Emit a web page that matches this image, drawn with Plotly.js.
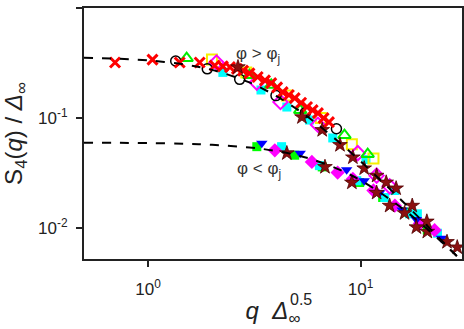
<!DOCTYPE html>
<html>
<head>
<meta charset="utf-8">
<script src="https://cdn.plot.ly/plotly-3.0.1.min.js"></script>
<style>
  body { margin: 0; background: #fff; }
  #plot { width: 464px; height: 329px; }
</style>
</head>
<body>
<div id="plot"></div>
<script>
// dashed guide curves
var fitX = [0.5, 0.7, 1, 1.5, 2, 3, 4, 5, 6, 8, 10, 13, 16, 20, 25, 30];
var fitHigh = [0.353, 0.347, 0.334, 0.306, 0.274, 0.211, 0.159, 0.121, 0.0937, 0.0595, 0.0405, 0.0251, 0.017, 0.0111, 0.00716, 0.005];
var fitLow = [0.0598, 0.0596, 0.0593, 0.0584, 0.0572, 0.0541, 0.0503, 0.0461, 0.0418, 0.0338, 0.0272, 0.0197, 0.0147, 0.0103, 0.0070, 0.00505];

// phi > phi_j branch
var redX = [0.70, 1.05, 1.41, 1.75, 2.06, 2.25, 2.43, 2.62, 2.8, 3.0, 3.28, 3.55, 3.8, 4.05, 4.3, 4.6, 4.9, 5.25, 5.6, 5.95, 6.3, 6.7, 7.1];
var redY = [0.32, 0.34, 0.32, 0.32, 0.30, 0.295, 0.29, 0.28, 0.27, 0.255, 0.236, 0.22, 0.208, 0.19, 0.172, 0.162, 0.152, 0.138, 0.126, 0.118, 0.111, 0.1, 0.092];
var blackX = [1.35, 1.9, 2.7, 4.0, 5.5, 7.7];
var blackY = [0.33, 0.28, 0.225, 0.16, 0.112, 0.08];
var greenOpenX = [1.52, 3.0, 3.8, 5.2, 8.4, 10.8];
var greenOpenY = [0.35, 0.245, 0.2, 0.118, 0.07, 0.047];
var yellowX = [2.0, 2.9, 4.5, 6.5, 9.1, 11.5];
var yellowY = [0.34, 0.26, 0.16, 0.1, 0.058, 0.043];
var magOpenX = [2.1, 3.25, 4.2, 6.3, 9.7, 11.9, 13.7];
var magOpenY = [0.32, 0.21, 0.14, 0.087, 0.048, 0.03, 0.024];

// both branches
var cyanX = [2.25, 3.4, 4.5, 5.75, 7.4, 10.6, 14.5, 18.5, 4.25, 6.4, 9.6, 13.0, 17.0, 23.0];
var cyanY = [0.26, 0.18, 0.126, 0.096, 0.066, 0.042, 0.022, 0.0135, 0.055, 0.037, 0.027, 0.019, 0.0135, 0.009];
var starX = [2.65, 5.3, 6.6, 8.0, 9.2, 10.4, 11.9, 13.2, 14.7, 17.5, 20.5, 4.5, 6.8, 9.1, 11.9, 13.7, 16.1, 18.3, 20.6, 25.5, 28.5];
var starY = [0.29, 0.102, 0.078, 0.057, 0.044, 0.035, 0.030, 0.026, 0.023, 0.016, 0.0115, 0.048, 0.036, 0.026, 0.021, 0.016, 0.0137, 0.0102, 0.0093, 0.0075, 0.0067];

// phi < phi_j branch
var blueX = [3.43, 5.2, 8.6, 10.4, 12.3, 15.7, 18.3, 24];
var blueY = [0.059, 0.048, 0.034, 0.027, 0.021, 0.0146, 0.012, 0.0081];
var greenX = [3.25, 4.9, 6.6, 9.9, 12.7, 16.4, 20.6];
var greenY = [0.055, 0.046, 0.036, 0.026, 0.019, 0.014, 0.0096];
var magX = [3.95, 5.9, 7.8, 9.2, 11.5, 14.5, 19.0, 22.3];
var magY = [0.051, 0.04, 0.032, 0.028, 0.022, 0.016, 0.011, 0.0096];

function pts(x, y, symbol, color, size, lw) {
  return {
    x: x, y: y, mode: 'markers', type: 'scatter',
    marker: { symbol: symbol, color: color, size: size, line: { color: color, width: lw } }
  };
}

var data = [
  pts(greenX, greenY, 'square', '#00ff00', 9, 0),
  pts(cyanX, cyanY, 'square', '#00ffff', 9, 0),
  pts(magX, magY, 'diamond', '#ff00ff', 11, 0),
  pts(blueX, blueY, 'triangle-down', '#0000ff', 10, 0),
  pts(yellowX, yellowY, 'square-open', '#f5f000', 10, 2),
  pts(magOpenX, magOpenY, 'diamond-open', '#ff00ff', 11, 2),
  pts(greenOpenX, greenOpenY, 'triangle-up-open', '#00ee00', 11, 2),
  pts(blackX, blackY, 'circle-open', '#000000', 10, 1.5),
  pts(redX, redY, 'x-thin', '#ff0000', 10, 3),
  {
    x: starX, y: starY, mode: 'markers', type: 'scatter',
    marker: { symbol: 'star', color: '#8b1010', size: 11, line: { color: '#500000', width: 0.8 } }
  },
  {
    x: fitX, y: fitHigh, mode: 'lines', type: 'scatter',
    line: { color: '#000', width: 2, dash: 'dash', shape: 'spline' }
  },
  {
    x: fitX, y: fitLow, mode: 'lines', type: 'scatter',
    line: { color: '#000', width: 2, dash: 'dash', shape: 'spline' }
  }
];

var layout = {
  width: 464,
  height: 329,
  margin: { l: 84, r: 2, t: 8, b: 70 },
  showlegend: false,
  paper_bgcolor: '#fff',
  plot_bgcolor: '#fff',
  font: { family: 'Liberation Sans, Arial, sans-serif', color: '#222' },
  xaxis: {
    type: 'log',
    range: [Math.log10(0.5), Math.log10(30)],
    tickmode: 'array',
    tickvals: [1, 10],
    ticktext: ['10<sup>0</sup>', '10<sup>1</sup>'],
    ticks: 'outside',
    ticklen: 6,
    tickwidth: 2,
    tickcolor: '#222',
    tickfont: { size: 17 },
    ticklabelstandoff: 8,
    showgrid: false,
    zeroline: false,
    showline: true,
    linecolor: '#222',
    linewidth: 2,
    mirror: true,
    title: { text: '<i>q</i>  <i>Δ</i><sub>∞</sub>', font: { size: 24 }, standoff: 4 }
  },
  yaxis: {
    type: 'log',
    range: [-2.28, 0],
    tickmode: 'array',
    tickvals: [0.01, 0.1, 1],
    ticktext: ['10<sup>-2</sup>', '10<sup>-1</sup>', '10<sup>0</sup>'],
    ticks: 'outside',
    ticklen: 6,
    tickwidth: 2,
    tickcolor: '#222',
    tickfont: { size: 17 },
    ticklabelstandoff: 5,
    showgrid: false,
    zeroline: false,
    showline: true,
    linecolor: '#222',
    linewidth: 2,
    mirror: true,
    title: { text: 'S<sub>4</sub>(<i>q</i>) / <i>Δ</i><sub>∞</sub>', font: { size: 24 }, standoff: 12 }
  },
  annotations: [
    { xref: 'paper', yref: 'paper', x: 0.46, y: 0.865, showarrow: false,
      text: 'φ > φ<sub>j</sub>', font: { size: 17, color: '#333' } },
    { xref: 'paper', yref: 'paper', x: 0.463, y: 0.303, showarrow: false,
      text: 'φ < φ<sub>j</sub>', font: { size: 17, color: '#333' } },
    // exponent stacked over the subscript of the x title
    { xref: 'paper', yref: 'paper', x: 0.54, y: -0.162, xanchor: 'left', yanchor: 'middle',
      showarrow: false, text: '0.5', font: { size: 16 } }
  ]
};

Plotly.newPlot('plot', data, layout, { displayModeBar: false, staticPlot: true });
</script>
</body>
</html>
